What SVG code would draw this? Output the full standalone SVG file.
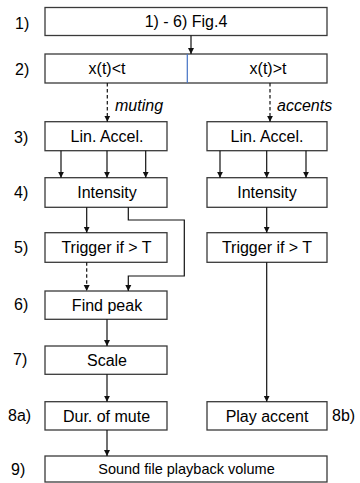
<svg xmlns="http://www.w3.org/2000/svg" width="360" height="483" viewBox="0 0 360 483">
<style>
.box{fill:#fff;stroke:#3a3a3a;stroke-width:1.3}
.t{font-family:"Liberation Sans",Arial,sans-serif;font-size:16px;fill:#000;text-anchor:middle}
.lab{font-family:"Liberation Sans",Arial,sans-serif;font-size:16px;fill:#000}
.it{font-family:"Liberation Sans",Arial,sans-serif;font-size:16px;font-style:italic;fill:#000}
.c{fill:none;stroke:#111;stroke-width:1.2}
.d{stroke-dasharray:3.5,2.5}
</style>
<defs>
<marker id="ah" markerWidth="6" markerHeight="8" refX="6" refY="3" orient="auto" markerUnits="userSpaceOnUse" viewBox="0 0 6 6">
<path d="M0,0 L6,3 L0,6 Z" fill="#111"/>
</marker>
</defs>
<g id="labels">
<text class="lab" x="15" y="29">1)</text>
<text class="lab" x="15" y="75">2)</text>
<text class="lab" x="14" y="143">3)</text>
<text class="lab" x="14" y="198">4)</text>
<text class="lab" x="14" y="253">5)</text>
<text class="lab" x="14" y="310">6)</text>
<text class="lab" x="13" y="365">7)</text>
<text class="lab" x="8" y="421">8a)</text>
<text class="lab" x="11" y="475">9)</text>
<text class="lab" x="332" y="421">8b)</text>
</g>
<g id="n1"><rect class="box" x="45" y="7.5" width="282" height="28"/><text class="t" x="186" y="27">1) - 6) Fig.4</text></g>
<g id="n2"><rect class="box" x="45" y="54" width="282" height="29"/><line x1="187.3" y1="54" x2="187.3" y2="83" stroke="#4472C4" stroke-width="1.2"/><text class="t" x="107" y="74">x(t)&lt;t</text><text class="t" x="268" y="74">x(t)&gt;t</text></g>
<g id="n3a"><rect class="box" x="45" y="121.7" width="122" height="29"/><text class="t" x="107" y="142">Lin. Accel.</text></g>
<g id="n3b"><rect class="box" x="207" y="121.7" width="120" height="29"/><text class="t" x="267" y="142">Lin. Accel.</text></g>
<g id="n4a"><rect class="box" x="45" y="177.7" width="122" height="29.6"/><text class="t" x="107" y="198">Intensity</text></g>
<g id="n4b"><rect class="box" x="207" y="177.7" width="120" height="29.6"/><text class="t" x="267" y="198">Intensity</text></g>
<g id="n5a"><rect class="box" x="45" y="232.7" width="122" height="29.6"/><text class="t" x="106.5" y="253">Trigger if &gt; T</text></g>
<g id="n5b"><rect class="box" x="207" y="232.7" width="120" height="29.6"/><text class="t" x="267" y="253">Trigger if &gt; T</text></g>
<g id="n6"><rect class="box" x="45" y="291" width="122" height="28.3"/><text class="t" x="107" y="311">Find peak</text></g>
<g id="n7"><rect class="box" x="45" y="346" width="122" height="28.3"/><text class="t" x="107" y="366">Scale</text></g>
<g id="n8a"><rect class="box" x="45" y="401.7" width="122" height="28.3"/><text class="t" x="106.5" y="422">Dur. of mute</text></g>
<g id="n8b"><rect class="box" x="207" y="401.7" width="120" height="28.3"/><text class="t" x="267" y="422">Play accent</text></g>
<g id="n9"><rect class="box" x="45" y="456" width="282" height="26"/><text class="t" x="186.5" y="474" style="font-size:14.5px">Sound file playback volume</text></g>
<g id="connectors">
<line class="c" x1="191" y1="35.5" x2="191" y2="54" marker-end="url(#ah)"/>
<line class="c d" x1="107.3" y1="83" x2="107.3" y2="121.7" marker-end="url(#ah)"/>
<line class="c d" x1="270" y1="83" x2="270" y2="121.7" marker-end="url(#ah)"/>
<text class="it" x="115" y="111">muting</text>
<text class="it" x="277" y="111">accents</text>
<line class="c" x1="61" y1="150.7" x2="61" y2="177.7" marker-end="url(#ah)"/>
<line class="c" x1="107" y1="150.7" x2="107" y2="177.7" marker-end="url(#ah)"/>
<line class="c" x1="145.7" y1="150.7" x2="145.7" y2="177.7" marker-end="url(#ah)"/>
<line class="c" x1="220" y1="150.7" x2="220" y2="177.7" marker-end="url(#ah)"/>
<line class="c" x1="266.7" y1="150.7" x2="266.7" y2="177.7" marker-end="url(#ah)"/>
<line class="c" x1="306" y1="150.7" x2="306" y2="177.7" marker-end="url(#ah)"/>
<line class="c" x1="86.7" y1="207.3" x2="86.7" y2="232.7" marker-end="url(#ah)"/>
<polyline class="c" points="128.3,207.3 128.3,220 184.3,220 184.3,276 128.3,276 128.3,291" marker-end="url(#ah)"/>
<line class="c" x1="266.7" y1="207.3" x2="266.7" y2="232.7" marker-end="url(#ah)"/>
<line class="c d" x1="86.7" y1="262.3" x2="86.7" y2="291" marker-end="url(#ah)"/>
<line class="c" x1="266.7" y1="262.3" x2="266.7" y2="401.7" marker-end="url(#ah)"/>
<line class="c" x1="107" y1="319.3" x2="107" y2="346" marker-end="url(#ah)"/>
<line class="c" x1="107" y1="374.3" x2="107" y2="401.7" marker-end="url(#ah)"/>
<line class="c" x1="107" y1="430" x2="107" y2="456" marker-end="url(#ah)"/>
</g>
</svg>
